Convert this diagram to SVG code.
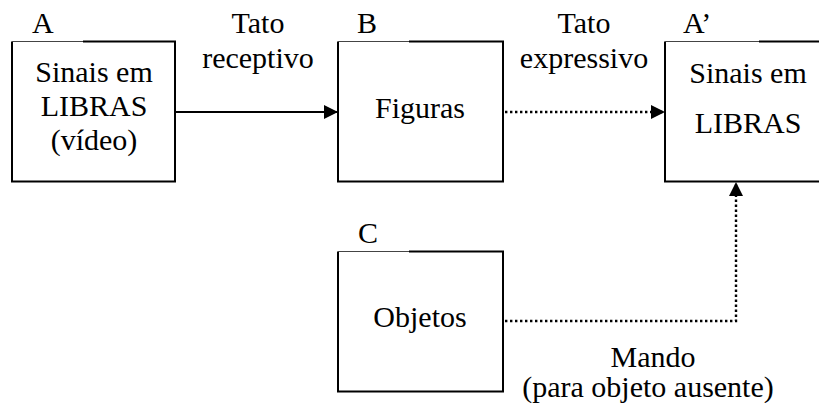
<svg xmlns="http://www.w3.org/2000/svg" width="819" height="403" viewBox="0 0 819 403">
<defs>
<style>
.box{fill:none;stroke:#000;stroke-width:2}
.thin{fill:none;stroke:#444;stroke-width:1.2}
.solid{fill:none;stroke:#000;stroke-width:2}
.dot{fill:none;stroke:#000;stroke-width:2.4;stroke-dasharray:2.4 2.6}
</style>
<marker id="ah" viewBox="0 0 10 10" refX="10" refY="5" markerWidth="15" markerHeight="14" markerUnits="userSpaceOnUse" orient="auto">
<path d="M0,0 L10,5 L0,10 Z" fill="#000"/>
</marker>
</defs>
<g id="connectors">
<line class="solid" x1="176" y1="112" x2="338" y2="112" marker-end="url(#ah)"/>
<line class="dot" x1="505" y1="112" x2="665" y2="112" marker-end="url(#ah)"/>
<polyline class="dot" points="505,321 736,321 736,182" marker-end="url(#ah)"/>
</g>
<g id="labels">
<text style="font-family:'Liberation Serif';font-size:30px" x="258" y="33" text-anchor="middle">Tato</text>
<text style="font-family:'Liberation Serif';font-size:30px" x="258" y="68" text-anchor="middle">receptivo</text>
<text style="font-family:'Liberation Serif';font-size:30px" x="584" y="33" text-anchor="middle">Tato</text>
<text style="font-family:'Liberation Serif';font-size:30px" x="584" y="68" text-anchor="middle">expressivo</text>
<text style="font-family:'Liberation Serif';font-size:30px" x="653" y="367" text-anchor="middle">Mando</text>
<text style="font-family:'Liberation Serif';font-size:30px" x="648" y="397" text-anchor="middle">(para objeto ausente)</text>
</g>
<g id="nodeA">
<path class="box" d="M83,41.5 H175 V181.5 H12 V41.5"/>
<line class="thin" x1="12" y1="41.5" x2="83" y2="41.5"/>
<text style="font-family:'Liberation Serif';font-size:30px" x="32" y="33">A</text>
<text style="font-family:'Liberation Serif';font-size:30px" x="94" y="82" text-anchor="middle">Sinais em</text>
<text style="font-family:'Liberation Serif';font-size:30px" x="94" y="116" text-anchor="middle">LIBRAS</text>
<text style="font-family:'Liberation Serif';font-size:30px" x="94" y="150" text-anchor="middle">(v&#237;deo)</text>
</g>
<g id="nodeB">
<path class="box" d="M409,41.5 H503 V181.5 H338 V41.5"/>
<line class="thin" x1="338" y1="41.5" x2="409" y2="41.5"/>
<text style="font-family:'Liberation Serif';font-size:30px" x="357" y="33">B</text>
<text style="font-family:'Liberation Serif';font-size:30px" x="420" y="118" text-anchor="middle">Figuras</text>
</g>
<g id="nodeA2">
<path class="box" d="M759,41.5 H830 V181.5 H665 V41.5"/>
<line class="thin" x1="665" y1="41.5" x2="759" y2="41.5"/>
<text style="font-family:'Liberation Serif';font-size:30px" x="683" y="33">A&#8217;</text>
<text style="font-family:'Liberation Serif';font-size:30px" x="748" y="83" text-anchor="middle">Sinais em</text>
<text style="font-family:'Liberation Serif';font-size:30px" x="748" y="133" text-anchor="middle">LIBRAS</text>
</g>
<g id="nodeC">
<path class="box" d="M409,251.5 H503 V391.5 H338 V251.5"/>
<line class="thin" x1="338" y1="251.5" x2="409" y2="251.5"/>
<text style="font-family:'Liberation Serif';font-size:30px" x="358" y="243">C</text>
<text style="font-family:'Liberation Serif';font-size:30px" x="420" y="327" text-anchor="middle">Objetos</text>
</g>
</svg>
